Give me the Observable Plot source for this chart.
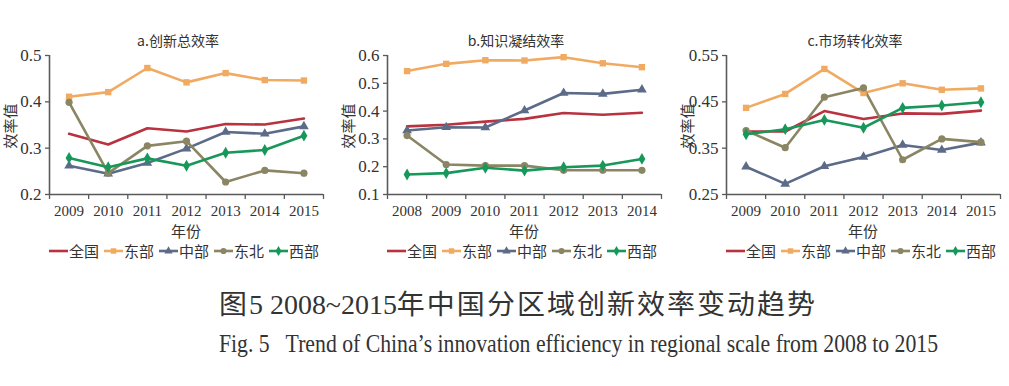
<!DOCTYPE html>
<html>
<head>
<meta charset="utf-8">
<script src="https://cdn.jsdelivr.net/npm/d3@7"></script>
<script src="https://cdn.jsdelivr.net/npm/@observablehq/plot@0.6"></script>
<style>
  html, body { margin: 0; padding: 0; background: #fff; }
  #root { position: relative; width: 1009px; height: 386px; overflow: hidden; background: #fff; }
  .panel { position: absolute; top: 20px; }
  .ptitle { position: absolute; top: 30px; font-family: "Noto Sans CJK SC", sans-serif; font-size: 14px; color: #333; white-space: nowrap; transform: translateX(-50%); }
  .legend { position: absolute; top: 243px; height: 16px; line-height: 16px; display: flex; justify-content: space-between; align-items: center; font-family: "Noto Sans CJK SC", sans-serif; font-size: 15px; color: #333; }
  .legend .item { display: flex; align-items: center; }
  .legend svg { display: block; margin-right: 1px; }
  .ylab, .xlab { position: absolute; font-family: "Noto Sans CJK SC", sans-serif; font-size: 15px; line-height: 16px; color: #333; white-space: nowrap; }
  .ylab { transform: translate(-50%, -50%) rotate(-90deg); }
  .xlab { transform: translate(-50%, -50%); }
  .cap1 { position: absolute; left: 219px; top: 283px; font-size: 27px; color: #333; white-space: nowrap; transform-origin: 0 0; }
  .cap1 .lat { font-family: "Liberation Serif", serif; }
  .cap1 .cjk { font-family: "Noto Sans CJK SC", sans-serif; letter-spacing: 2px; }
  .cap2 { position: absolute; left: 219px; top: 330px; font-family: "Liberation Serif", serif; font-size: 25px; color: #333; white-space: pre; transform-origin: 0 0; }
</style>
</head>
<body>
<div id="root"></div>
<script>
// ---- data ----
const regions = ["全国", "东部", "中部", "东北", "西部"];
const colors = ["#b8323f", "#f0aa62", "#5c6b88", "#8a8563", "#17985a"];
const symbols = ["circle", "square", "triangle", "circle", "diamond"];

const titles = ["a.创新总效率", "b.知识凝结效率", "c.市场转化效率"];
const xLabel = "年份";
const yLabel = "效率值";

// a. 创新总效率
const yearsA = [2009, 2010, 2011, 2012, 2013, 2014, 2015];
const aNational  = [0.331, 0.308, 0.343, 0.336, 0.352, 0.351, 0.364];
const aEast      = [0.411, 0.421, 0.473, 0.442, 0.462, 0.447, 0.446];
const aCentral   = [0.262, 0.245, 0.268, 0.299, 0.335, 0.331, 0.347];
const aNortheast = [0.399, 0.246, 0.305, 0.315, 0.227, 0.252, 0.246];
const aWest      = [0.279, 0.259, 0.278, 0.262, 0.290, 0.296, 0.327];
const yTicksA = [0.2, 0.3, 0.4, 0.5];

// b. 知识凝结效率
const yearsB = [2008, 2009, 2010, 2011, 2012, 2013, 2014];
const bNational  = [0.345, 0.351, 0.362, 0.372, 0.393, 0.387, 0.394];
const bEast      = [0.544, 0.570, 0.583, 0.582, 0.594, 0.572, 0.558];
const bCentral   = [0.330, 0.342, 0.341, 0.402, 0.465, 0.462, 0.477];
const bNortheast = [0.312, 0.208, 0.204, 0.204, 0.187, 0.187, 0.187];
const bWest      = [0.172, 0.177, 0.196, 0.186, 0.198, 0.204, 0.228];
const yTicksB = [0.1, 0.2, 0.3, 0.4, 0.5, 0.6];

// c. 市场转化效率
const yearsC = [2009, 2010, 2011, 2012, 2013, 2014, 2015];
const cNational  = [0.386, 0.386, 0.430, 0.413, 0.425, 0.424, 0.431];
const cEast      = [0.437, 0.467, 0.521, 0.469, 0.490, 0.476, 0.479];
const cCentral   = [0.310, 0.273, 0.311, 0.331, 0.357, 0.346, 0.362];
const cNortheast = [0.388, 0.351, 0.460, 0.480, 0.325, 0.370, 0.363];
const cWest      = [0.380, 0.391, 0.411, 0.394, 0.437, 0.442, 0.449];
const yTicksC = [0.25, 0.35, 0.45, 0.55];

// ---- drawing ----
const root = document.getElementById("root");
const axisColor = "#5a5a5a";
const latin = "'Liberation Serif', 'Times New Roman', serif";
const PANEL_TOP = 20, MT = 35, MB = 48, H = 222;

function panel({title, years, series, yTicks, left, width, marginLeft, marginRight}) {
  const data = regions.flatMap((r, i) => years.map((yr, j) => ({region: r, year: yr, value: series[i][j]})));
  const x0 = years[0] - 0.5, x1 = years[years.length - 1] + 0.5;
  const bounds = d3.range(years.length + 1).map(i => x0 + i);
  const yDomain = [yTicks[0], yTicks[yTicks.length - 1]];
  const chart = Plot.plot({
    width, height: H,
    marginLeft, marginRight, marginTop: MT, marginBottom: MB,
    style: {fontFamily: latin, fontSize: "15px", color: "#333", background: "transparent", overflow: "visible"},
    x: {type: "linear", domain: [x0, x1]},
    y: {domain: yDomain},
    color: {domain: regions, range: colors},
    symbol: {domain: regions, range: symbols},
    marks: [
      Plot.axisY({ticks: yTicks, tickSize: 4, tickPadding: 4, fontSize: 17, stroke: axisColor, strokeWidth: 1.3,
                  tickFormat: d => String(d), label: null, fontFamily: latin}),
      Plot.axisX({ticks: years, tickSize: 0, tickPadding: 11, tickFormat: d => String(d), label: null, fontSize: 15}),
      Plot.axisX({ticks: bounds, tickSize: 5, tickFormat: () => "", stroke: axisColor, strokeWidth: 1.3, label: null}),
      Plot.ruleX([x0], {stroke: axisColor, strokeWidth: 1.6}),
      Plot.ruleY([yDomain[0]], {stroke: axisColor, strokeWidth: 1.6}),
      Plot.line(data, {x: "year", y: "value", z: "region", stroke: "region", strokeWidth: 2.6}),
      Plot.dot(data.filter(d => d.region !== "全国"), {x: "year", y: "value", fill: "region", symbol: "region", r: 3.6, stroke: "none"})
    ]
  });
  chart.classList.add("panel");
  chart.style.left = left + "px";
  root.appendChild(chart);

  const cx = left + marginLeft + (width - marginLeft - marginRight) / 2;

  // title
  const t = document.createElement("div");
  t.className = "ptitle";
  t.textContent = title;
  t.style.left = (cx - 8) + "px";
  root.appendChild(t);

  // y label
  const yl = document.createElement("div");
  yl.className = "ylab";
  yl.textContent = yLabel;
  yl.style.left = (left + marginLeft - 39) + "px";
  yl.style.top = (PANEL_TOP + MT + (H - MT - MB) / 2 + 1) + "px";
  root.appendChild(yl);

  // x label
  const xl = document.createElement("div");
  xl.className = "xlab";
  xl.textContent = xLabel;
  xl.style.left = cx + "px";
  xl.style.top = (PANEL_TOP + H - MB + 37) + "px";
  root.appendChild(xl);

  // legend
  const lg = document.createElement("div");
  lg.className = "legend";
  lg.style.left = (left + marginLeft) + "px";
  lg.style.width = (width - marginLeft - marginRight - 4) + "px";
  regions.forEach((r, i) => {
    const it = document.createElement("div");
    it.className = "item";
    const s = d3.create("svg").attr("width", 19).attr("height", 12);
    s.append("line").attr("x1", 0).attr("x2", 19).attr("y1", 6).attr("y2", 6)
      .attr("stroke", colors[i]).attr("stroke-width", 2.6);
    if (i > 0) {
      const sym = {circle: d3.symbolCircle, square: d3.symbolSquare, triangle: d3.symbolTriangle, diamond: d3.symbolDiamond}[symbols[i]];
      s.append("path").attr("transform", "translate(9.5,6)").attr("d", d3.symbol(sym, 30)()).attr("fill", colors[i]);
    }
    it.appendChild(s.node());
    const tx = document.createElement("span");
    tx.textContent = r;
    it.appendChild(tx);
    lg.appendChild(it);
  });
  root.appendChild(lg);
}

panel({title: titles[0], years: yearsA, series: [aNational, aEast, aCentral, aNortheast, aWest], yTicks: yTicksA,
       left: 0, width: 336, marginLeft: 49, marginRight: 13});
panel({title: titles[1], years: yearsB, series: [bNational, bEast, bCentral, bNortheast, bWest], yTicks: yTicksB,
       left: 338, width: 336, marginLeft: 49, marginRight: 13});
panel({title: titles[2], years: yearsC, series: [cNational, cEast, cCentral, cNortheast, cWest], yTicks: yTicksC,
       left: 676, width: 333, marginLeft: 50, marginRight: 9});

// captions
const cap1 = document.createElement("div");
cap1.className = "cap1";
cap1.innerHTML = '<span class="cjk">图</span><span class="lat">5 2008~2015</span><span class="cjk">年中国分区域创新效率变动趋势</span>';
root.appendChild(cap1);
const cap2 = document.createElement("div");
cap2.className = "cap2";
cap2.textContent = "Fig. 5   Trend of China\u2019s innovation efficiency in regional scale from 2008 to 2015";
root.appendChild(cap2);
// fit caption widths to the reference spans
function fit(el, w) {
  const r = el.getBoundingClientRect().width;
  if (r > 0) el.style.transform = `scaleX(${w / r})`;
}
fit(cap1, 598);
fit(cap2, 719);
</script>
</body>
</html>
